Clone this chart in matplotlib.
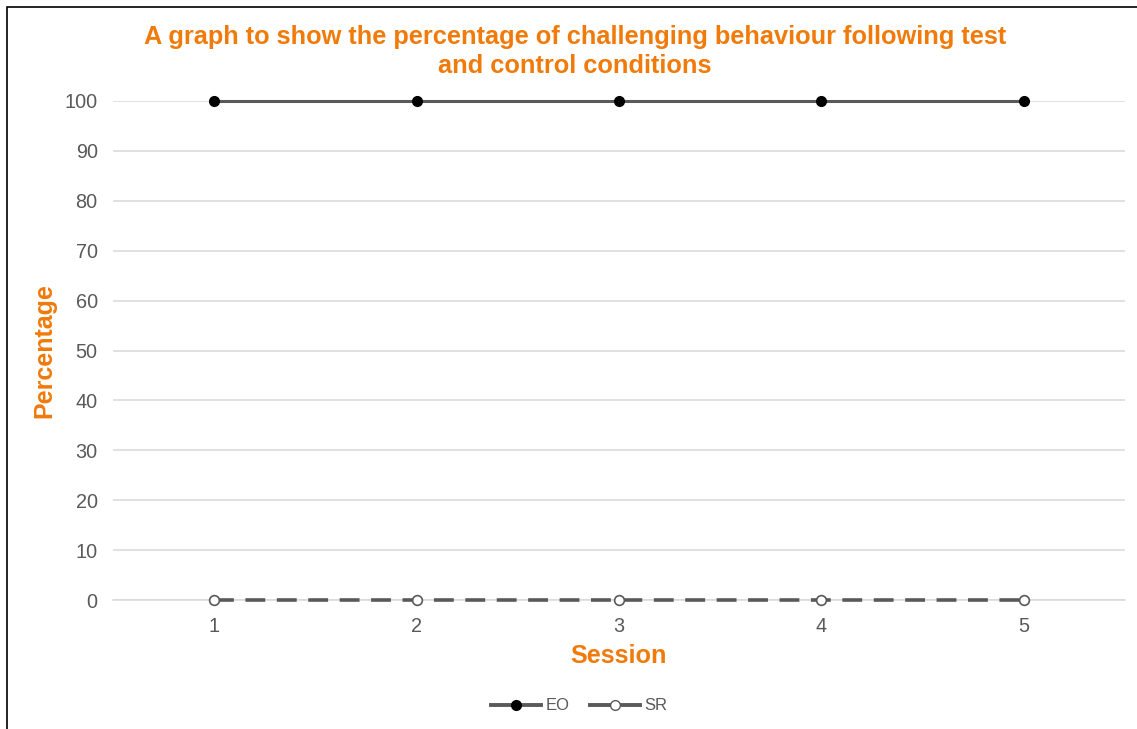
import matplotlib
matplotlib.use("Agg")
import matplotlib.pyplot as plt
from matplotlib.patches import Rectangle
from matplotlib.lines import Line2D

plt.rcParams['font.family'] = ['Liberation Sans', 'DejaVu Sans']

sessions = [1, 2, 3, 4, 5]
eo_values = [100, 100, 100, 100, 100]
sr_values = [0, 0, 0, 0, 0]
yticks = [0, 10, 20, 30, 40, 50, 60, 70, 80, 90, 100]

ORANGE = '#F07A0A'
LINE = '#595959'
TICK = '#595959'

fig = plt.figure(figsize=(11.37, 7.29), dpi=100)
ax = fig.add_axes([113/1137, 1-600/729, (1125-113)/1137, (600-101)/729])

ax.plot(sessions, eo_values, color=LINE, lw=2.2, marker='o', ms=7,
        mfc='black', mec='black', clip_on=False, zorder=3, label='EO')
ax.plot(sessions, sr_values, color=LINE, lw=2.6, ls=(0, (5.5, 3.2)), marker='o', ms=7,
        mfc='white', mec=LINE, mew=1.2, clip_on=False, zorder=3, label='SR')

ax.set_xlim(0.5, 5.5)
ax.set_ylim(0, 100)
ax.set_xticks(sessions)
ax.set_yticks(yticks)
ax.yaxis.grid(True, color='#D9D9D9', lw=1.1)
ax.set_axisbelow(True)
for s in ['top', 'right', 'left']:
    ax.spines[s].set_visible(False)
ax.spines['bottom'].set_color('#D9D9D9')
ax.spines['bottom'].set_linewidth(1.1)
ax.tick_params(axis='both', length=0, labelsize=14.3, labelcolor=TICK)
ax.tick_params(axis='y', pad=11)
ax.tick_params(axis='x', pad=12)

ax.set_xlabel('Session', fontsize=18.2, fontweight='bold', color=ORANGE, labelpad=6)
ax.set_ylabel('Percentage', fontsize=18, fontweight='bold', color=ORANGE, labelpad=6)

fig.text(575/1137, 1-51.5/729,
         'A graph to show the percentage of challenging behaviour following test\nand control conditions',
         ha='center', va='center', fontsize=18.3, fontweight='bold', color=ORANGE, linespacing=1.3)

handles = [Line2D([], [], color=LINE, lw=2.8, marker='o', ms=7, mfc='black', mec='black'),
           Line2D([], [], color=LINE, lw=2.8, marker='o', ms=7, mfc='white', mec=LINE)]
fig.legend(handles, ['EO', 'SR'], loc='center', bbox_to_anchor=(579/1137, 1-706/729),
           ncol=2, frameon=False, fontsize=12, labelcolor=TICK, handlelength=3.0,
           columnspacing=1.2, handletextpad=0.3)

fig.patches.append(Rectangle((7/1137, -0.1), 1.2, 1 - 7/729 + 0.1, transform=fig.transFigure,
                             fill=False, edgecolor='black', lw=1.2))

fig.savefig('out.png', dpi=100)
